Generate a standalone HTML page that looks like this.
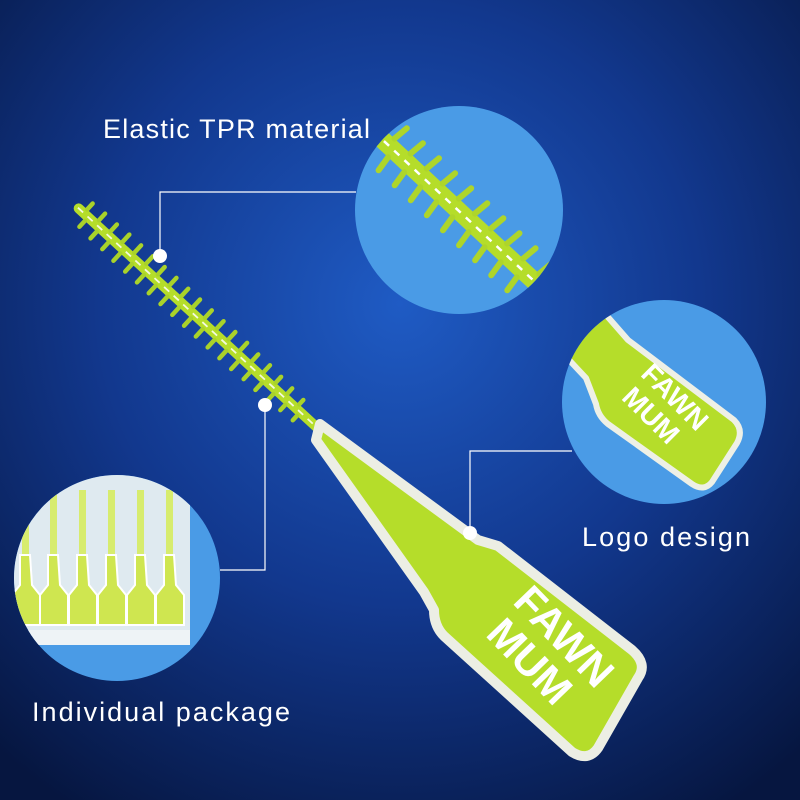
<!DOCTYPE html>
<html><head><meta charset="utf-8"><style>
html,body{margin:0;padding:0;width:800px;height:800px;overflow:hidden;background:#0a1f5c}
svg{display:block}
text{font-family:"Liberation Sans",sans-serif}
</style></head><body>
<svg width="800" height="800" viewBox="0 0 800 800" xmlns="http://www.w3.org/2000/svg">
<defs>
<radialGradient id="bg" cx="0.5" cy="0.38" r="0.75">
<stop offset="0" stop-color="#1f5bc4"/>
<stop offset="0.5" stop-color="#12388e"/>
<stop offset="1" stop-color="#061640"/>
</radialGradient>
<clipPath id="c1"><circle cx="459" cy="210" r="104"/></clipPath>
<clipPath id="c2"><circle cx="664" cy="402" r="102"/></clipPath>
<clipPath id="c3"><circle cx="117" cy="578" r="103"/></clipPath>
</defs>
<rect width="800" height="800" fill="url(#bg)"/>

<!-- circle 1 -->
<circle cx="459" cy="210" r="104" fill="#4a9be6"/>
<g clip-path="url(#c1)">
<g transform="translate(460,212) rotate(43)">
<rect x="-160" y="-9" width="320" height="18" fill="#b5dd2a"/>
<g stroke="#aed52a" stroke-width="6" stroke-linecap="round">
<line x1="-120" y1="-9" x2="-118" y2="-25"/><line x1="-112" y1="9" x2="-110" y2="25"/>
<line x1="-98" y1="-9" x2="-96" y2="-25"/><line x1="-90" y1="9" x2="-88" y2="25"/>
<line x1="-76" y1="-9" x2="-74" y2="-25"/><line x1="-68" y1="9" x2="-66" y2="25"/>
<line x1="-54" y1="-9" x2="-52" y2="-25"/><line x1="-46" y1="9" x2="-44" y2="25"/>
<line x1="-32" y1="-9" x2="-30" y2="-25"/><line x1="-24" y1="9" x2="-22" y2="25"/>
<line x1="-10" y1="-9" x2="-8" y2="-25"/><line x1="-2" y1="9" x2="0" y2="25"/>
<line x1="12" y1="-9" x2="14" y2="-25"/><line x1="20" y1="9" x2="22" y2="25"/>
<line x1="34" y1="-9" x2="36" y2="-25"/><line x1="42" y1="9" x2="44" y2="25"/>
<line x1="56" y1="-9" x2="58" y2="-25"/><line x1="64" y1="9" x2="66" y2="25"/>
<line x1="78" y1="-9" x2="80" y2="-25"/><line x1="86" y1="9" x2="88" y2="25"/>
<line x1="100" y1="-9" x2="102" y2="-25"/><line x1="108" y1="9" x2="110" y2="25"/>
</g>
<line x1="-160" y1="0" x2="160" y2="0" stroke="#fff" stroke-width="2.5" stroke-dasharray="7 7"/>
</g>
</g>

<!-- circle 2 -->
<circle cx="664" cy="402" r="102" fill="#4a9be6"/>
<g clip-path="url(#c2)">
<path d="M600,308 L628,340 L734,420 Q744,430 737,443 L712,482 Q704,492 692,484 L608,424 Q598,416 596,404 L586,378 L556,346 Z" fill="#b5dd2a" stroke="#eef0e6" stroke-width="6" stroke-linejoin="round"/>
<g transform="translate(664,408) rotate(45)">
<text x="0" y="-6" font-size="28" font-weight="bold" fill="#fff" text-anchor="middle">FAWN</text>
<text x="-4" y="24" font-size="28" font-weight="bold" fill="#fff" text-anchor="middle">MUM</text>
</g>
</g>

<!-- circle 3 -->
<circle cx="117" cy="578" r="103" fill="#4a9be6"/>
<g clip-path="url(#c3)">
<rect x="0" y="470" width="190" height="175" rx="6" fill="#dfeaf0"/>
<g fill="#d7ec6e">
<rect x="22" y="490" width="7" height="90"/><rect x="50" y="490" width="7" height="90"/>
<rect x="79" y="490" width="7" height="90"/><rect x="108" y="490" width="7" height="90"/>
<rect x="137" y="490" width="7" height="90"/><rect x="166" y="490" width="7" height="90"/>
</g>
<g fill="#cfe650" stroke="#fff" stroke-width="2">
<path d="M20,555 L30,555 L32,585 L40,595 L40,625 L12,625 L12,595 L20,585 Z"/>
<path d="M48,555 L58,555 L60,585 L68,595 L68,625 L40,625 L40,595 L48,585 Z"/>
<path d="M77,555 L87,555 L89,585 L97,595 L97,625 L69,625 L69,595 L77,585 Z"/>
<path d="M106,555 L116,555 L118,585 L126,595 L126,625 L98,625 L98,595 L106,585 Z"/>
<path d="M135,555 L145,555 L147,585 L155,595 L155,625 L127,625 L127,595 L135,585 Z"/>
<path d="M164,555 L174,555 L176,585 L184,595 L184,625 L156,625 L156,595 L164,585 Z"/>
</g>
<rect x="0" y="630" width="190" height="15" fill="#eef3f6"/>
</g>

<!-- brush -->
<g transform="translate(75,205) rotate(42.6)">
<rect x="0" y="-5" width="335" height="10" rx="5" fill="#b5dd2a"/>
<g stroke="#a9d22a" stroke-width="4.5" stroke-linecap="round">
<line x1="12" y1="-5" x2="12" y2="-13"/><line x1="18" y1="5" x2="18" y2="13"/>
<line x1="28" y1="-5" x2="28" y2="-14"/><line x1="34" y1="5" x2="34" y2="14"/>
<line x1="44" y1="-5" x2="44" y2="-14"/><line x1="50" y1="5" x2="50" y2="14"/>
<line x1="60" y1="-5" x2="60" y2="-15"/><line x1="66" y1="5" x2="66" y2="15"/>
<line x1="76" y1="-5" x2="76" y2="-15"/><line x1="82" y1="5" x2="82" y2="15"/>
<line x1="92" y1="-5" x2="92" y2="-15"/><line x1="98" y1="5" x2="98" y2="15"/>
<line x1="108" y1="-5" x2="108" y2="-15"/><line x1="114" y1="5" x2="114" y2="15"/>
<line x1="124" y1="-5" x2="124" y2="-15"/><line x1="130" y1="5" x2="130" y2="15"/>
<line x1="140" y1="-5" x2="140" y2="-15"/><line x1="146" y1="5" x2="146" y2="15"/>
<line x1="156" y1="-5" x2="156" y2="-15"/><line x1="162" y1="5" x2="162" y2="15"/>
<line x1="172" y1="-5" x2="172" y2="-15"/><line x1="178" y1="5" x2="178" y2="15"/>
<line x1="188" y1="-5" x2="188" y2="-15"/><line x1="194" y1="5" x2="194" y2="15"/>
<line x1="204" y1="-5" x2="204" y2="-15"/><line x1="210" y1="5" x2="210" y2="15"/>
<line x1="220" y1="-5" x2="220" y2="-15"/><line x1="226" y1="5" x2="226" y2="15"/>
<line x1="236" y1="-5" x2="236" y2="-14"/><line x1="242" y1="5" x2="242" y2="14"/>
<line x1="252" y1="-5" x2="252" y2="-14"/><line x1="258" y1="5" x2="258" y2="14"/>
<line x1="268" y1="-5" x2="268" y2="-13"/><line x1="274" y1="5" x2="274" y2="13"/>
<line x1="284" y1="-5" x2="284" y2="-12"/><line x1="290" y1="5" x2="290" y2="12"/>
<line x1="300" y1="-5" x2="300" y2="-11"/><line x1="306" y1="5" x2="306" y2="11"/>
</g>
<line x1="4" y1="0" x2="330" y2="0" stroke="#fff" stroke-width="1.8" stroke-dasharray="7 6" opacity="0.85"/>
</g>
<!-- handle -->
<path d="M320,424 L478,540 L498,546 L632,650 Q648,664 638,678 L598,748 Q588,762 572,752 L444,636 Q434,626 434,610 L424,592 L316,440 Z" fill="#b5dd2a" stroke="#eceee4" stroke-width="10" stroke-linejoin="round"/>
<g transform="translate(548,652) rotate(46)">
<text x="0" y="-8" font-size="42" font-weight="bold" fill="#fff" text-anchor="middle">FAWN</text>
<text x="-6" y="34" font-size="42" font-weight="bold" fill="#fff" text-anchor="middle">MUM</text>
</g>

<!-- connectors -->
<g stroke="#fff" stroke-width="1.2" fill="none">
<polyline points="160,256 160,192 356,192"/>
<polyline points="265,405 265,570 220,570"/>
<polyline points="470,533 470,451 572,451"/>
</g>
<g fill="#fff">
<circle cx="160" cy="256" r="7"/>
<circle cx="265" cy="405" r="7"/>
<circle cx="470" cy="533" r="7"/>
</g>

<text x="103" y="138" font-size="27" fill="#fff" textLength="267" lengthAdjust="spacing">Elastic TPR material</text>
<text x="582" y="546" font-size="27" fill="#fff" textLength="168" lengthAdjust="spacing">Logo design</text>
<text x="32" y="721" font-size="27" fill="#fff" textLength="258" lengthAdjust="spacing">Individual package</text>
</svg>
</body></html>
